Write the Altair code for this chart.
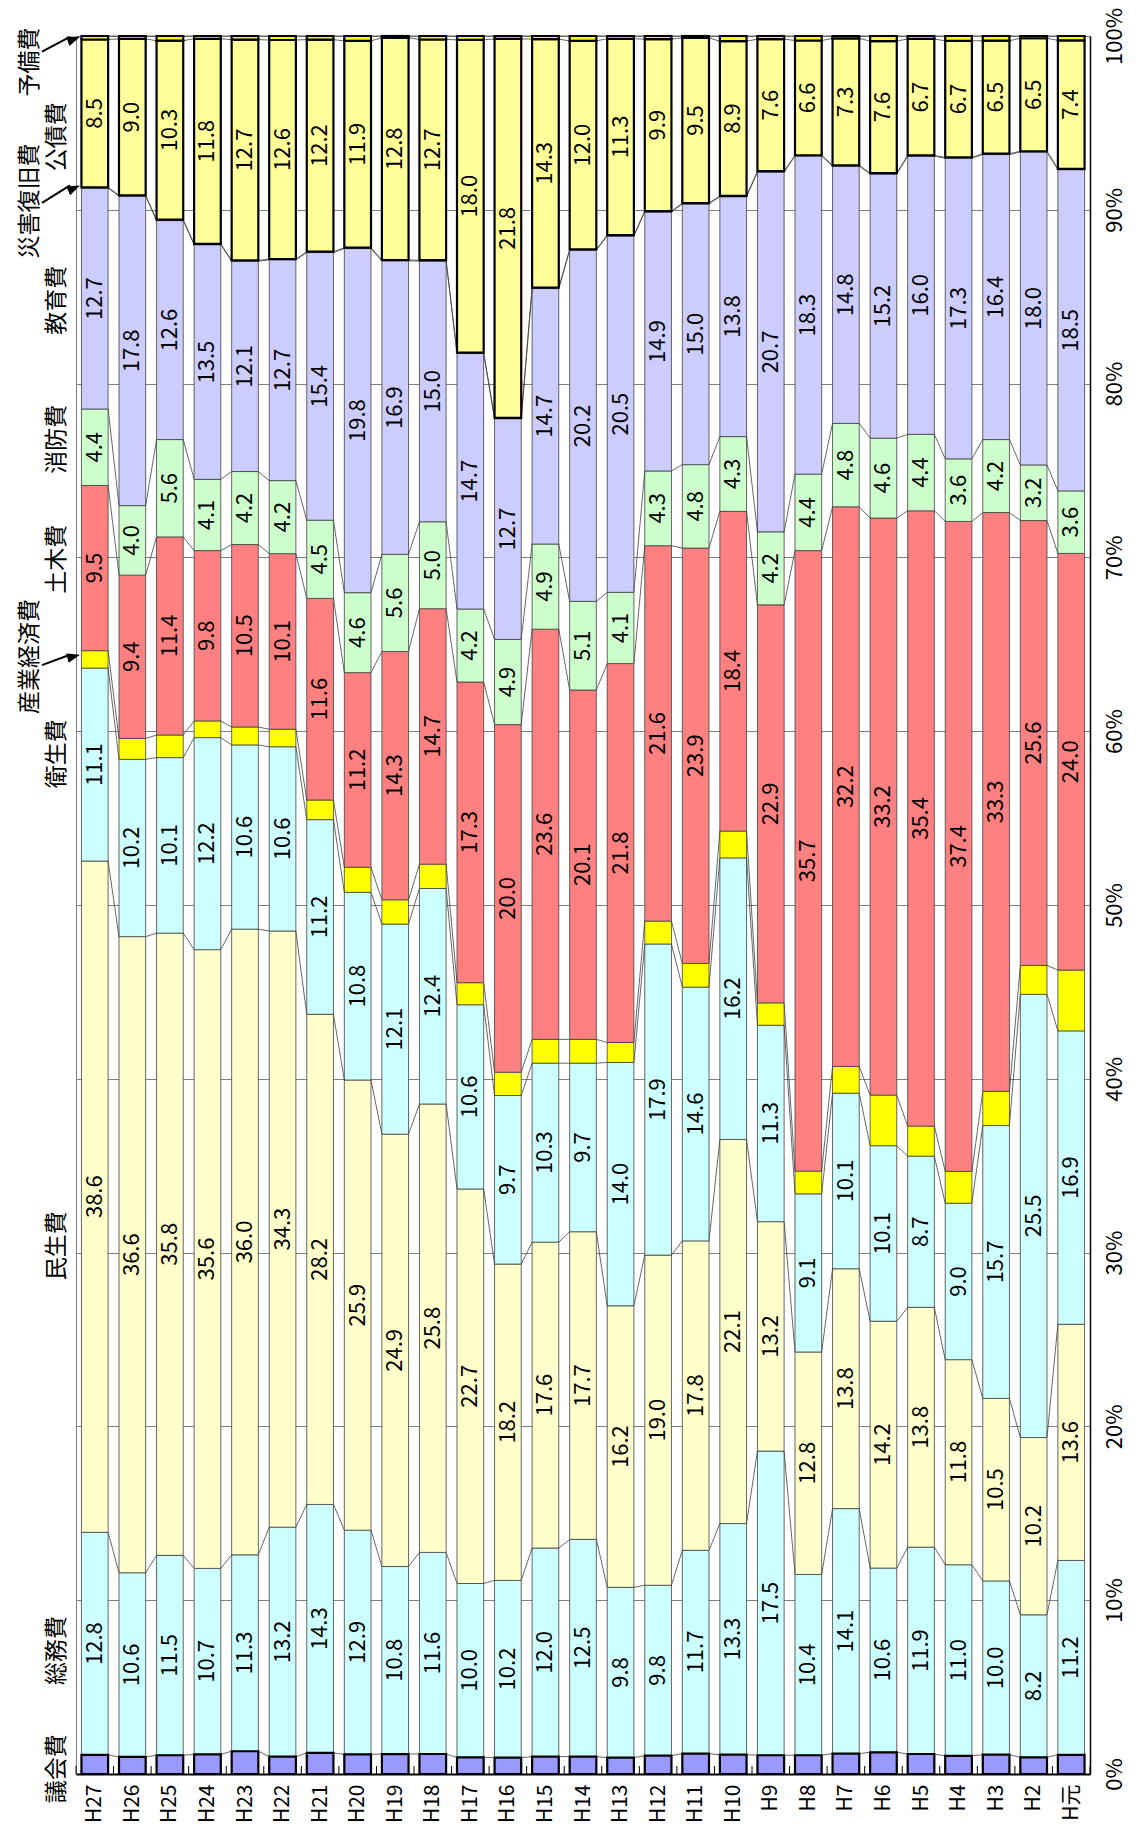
import json
import altair as alt
import pandas as pd

years = ["H27", "H26", "H25", "H24", "H23", "H22", "H21", "H20", "H19", "H18",
         "H17", "H16", "H15", "H14", "H13", "H12", "H11", "H10", "H9", "H8",
         "H7", "H6", "H5", "H4", "H3", "H2", "H元"]

cats = ["議会費", "総務費", "民生費", "衛生費", "産業経済費", "土木費",
        "消防費", "教育費", "災害復旧費", "公債費", "予備費"]

gikai = [1.10, 0.98, 1.08, 1.13, 1.31, 1.00, 1.21, 1.13, 1.15, 1.15, 0.96, 0.94, 1.00, 1.00,
         0.94, 1.06, 1.17, 1.11, 1.08, 1.08, 1.17, 1.25, 1.15, 1.04, 1.11, 0.96, 1.10]
soumu = [12.8, 10.6, 11.5, 10.7, 11.3, 13.2, 14.3, 12.9, 10.8, 11.6, 10.0, 10.2, 12.0, 12.5,
         9.8, 9.8, 11.7, 13.3, 17.5, 10.4, 14.1, 10.6, 11.9, 11.0, 10.0, 8.2, 11.2]
minsei = [38.6, 36.6, 35.8, 35.6, 36.0, 34.3, 28.2, 25.9, 24.9, 25.8, 22.7, 18.2, 17.6, 17.7,
          16.2, 19.0, 17.8, 22.1, 13.2, 12.8, 13.8, 14.2, 13.8, 11.8, 10.5, 10.2, 13.6]
eisei = [11.1, 10.2, 10.1, 12.2, 10.6, 10.6, 11.2, 10.8, 12.1, 12.4, 10.6, 9.7, 10.3, 9.7,
         14.0, 17.9, 14.6, 16.2, 11.3, 9.1, 10.1, 10.1, 8.7, 9.0, 15.7, 25.5, 16.9]
sangyo = [1.00, 1.20, 1.30, 0.96, 1.03, 1.01, 1.13, 1.44, 1.40, 1.40, 1.27, 1.34, 1.37, 1.37,
          1.15, 1.32, 1.36, 1.54, 1.29, 1.31, 1.54, 2.91, 1.73, 1.83, 1.97, 1.66, 3.50]
doboku = [9.5, 9.4, 11.4, 9.8, 10.5, 10.1, 11.6, 11.2, 14.3, 14.7, 17.3, 20.0, 23.6, 20.1,
          21.8, 21.6, 23.9, 18.4, 22.9, 35.7, 32.2, 33.2, 35.4, 37.4, 33.3, 25.6, 24.0]
shobo = [4.4, 4.0, 5.6, 4.1, 4.2, 4.2, 4.5, 4.6, 5.6, 5.0, 4.2, 4.9, 4.9, 5.1,
         4.1, 4.3, 4.8, 4.3, 4.2, 4.4, 4.8, 4.6, 4.4, 3.6, 4.2, 3.2, 3.6]
kyoiku = [12.7, 17.8, 12.6, 13.5, 12.1, 12.7, 15.4, 19.8, 16.9, 15.0, 14.7, 12.7, 14.7, 20.2,
          20.5, 14.9, 15.0, 13.8, 20.7, 18.3, 14.8, 15.2, 16.0, 17.3, 16.4, 18.0, 18.5]
saigai = [0.05, 0.05, 0.05, 0.05, 0.05, 0.05, 0.05, 0.05, 0.05, 0.05, 0.05, 0.05, 0.05, 0.05,
          0.05, 0.05, 0.05, 0.05, 0.05, 0.05, 0.05, 0.05, 0.05, 0.05, 0.05, 0.05, 0.05]
kosai = [8.5, 9.0, 10.3, 11.8, 12.7, 12.6, 12.2, 11.9, 12.8, 12.7, 18.0, 21.8, 14.3, 12.0,
         11.3, 9.9, 9.5, 8.9, 7.6, 6.6, 7.3, 7.6, 6.7, 6.7, 6.5, 6.5, 7.4]
yobi = [0.20, 0.17, 0.27, 0.16, 0.21, 0.23, 0.21, 0.28, 0.10, 0.20, 0.22, 0.17, 0.18, 0.28,
        0.16, 0.18, 0.11, 0.30, 0.18, 0.26, 0.14, 0.29, 0.17, 0.28, 0.27, 0.13, 0.25]

series = [gikai, soumu, minsei, eisei, sangyo, doboku, shobo, kyoiku, saigai, kosai, yobi]

colors = ["#9999FF", "#CCFFFF", "#FFFFCC", "#CCFFFF", "#FFFF00", "#FF8080",
          "#CCFFCC", "#CCCCFF", "#FFFF99", "#FFFF99", "#FFFF00"]
labeled = ["総務費", "民生費", "衛生費", "土木費", "消防費", "教育費", "公債費"]
thick = ["議会費", "公債費", "予備費"]

# category header labels (rotated), positions (percent)
head_names = ["議会費", "総務費", "民生費", "衛生費", "産業経済費", "土木費",
              "消防費", "教育費", "災害復旧費", "公債費", "予備費"]
head_pos = [0.3, 7.1, 30.4, 58.7, 64.3, 69.9, 76.8, 84.8, 90.5, 94.2, 98.5]
head_outer = [False, False, False, False, True, False, False, False, True, False, True]

# arrows: (tail %, tip %, angle)
arrow_tail = [63.8, 90.4, 99.1]
arrow_tip = [64.4, 91.4, 99.95]
arrow_angle = [345, 336, 340]

W, H = 1014, 1738
HW = 0.355
FONT = "Noto Sans CJK JP"

rows = []
for i, yr in enumerate(years):
    vals = [s[i] for s in series]
    tot = sum(vals)
    cum = 0.0
    for c, v in zip(cats, vals):
        p = v / tot * 100
        rows.append(dict(year=yr, idx=i, cat=c, v=v, lo=cum, hi=cum + p,
                         mid=cum + p / 2, x0=i - HW, x1=i + HW,
                         label=f"{v:.1f}"))
        cum += p
df = pd.DataFrame(rows)

lines = []
for c in cats:
    sub = df[df.cat == c].sort_values("idx").reset_index(drop=True)
    for i in range(len(sub) - 1):
        lines.append(dict(cat=c, xa=sub.idx[i] + HW, ya=sub.hi[i],
                          xb=sub.idx[i + 1] - HW, yb=sub.hi[i + 1]))
ldf = pd.DataFrame(lines)

ticks_df = pd.DataFrame({"b": [k - 0.5 for k in range(len(years) + 1)]})
head_df = pd.DataFrame({"name": head_names, "pos": head_pos, "outer": head_outer})
arr_df = pd.DataFrame({"tail": arrow_tail, "tip": arrow_tip, "ang": arrow_angle})

xscale = alt.Scale(domain=[-0.5, len(years) - 0.5], nice=False, zero=False)
yscale = alt.Scale(domain=[0, 100], nice=False)
label_expr = json.dumps(years, ensure_ascii=False) + "[datum.value]"

xaxis = alt.Axis(values=list(range(len(years))), labelExpr=label_expr,
                 grid=False, ticks=False, domainColor="black", domainWidth=2,
                 title=None, labelAngle=270, labelAlign="right",
                 labelBaseline="middle", labelPadding=10, labelFontSize=21,
                 labelFont=FONT, labelColor="black", labelOverlap=False,
                 labelFlush=False)
yaxis = alt.Axis(orient="right", values=list(range(0, 101, 10)),
                 labelExpr="datum.value + '%'", grid=True, gridColor="#808080",
                 gridWidth=1, ticks=False, domainColor="black", domainWidth=1.5,
                 title=None, labelAngle=270, labelAlign="center",
                 labelBaseline="top", labelPadding=14, labelFontSize=22,
                 labelFont=FONT, labelColor="black", labelOverlap=False,
                 labelFlush=False)


def X(f):
    return alt.X(f, scale=xscale, axis=xaxis)


def Y(f):
    return alt.Y(f, scale=yscale, axis=yaxis)


color = alt.Color("cat:N", scale=alt.Scale(domain=cats, range=colors), legend=None)

base_bars = alt.Chart(df).mark_bar(stroke="#404040", strokeWidth=0.8).encode(
    x=X("x0:Q"), x2="x1:Q", y=Y("lo:Q"), y2="hi:Q", color=color,
)

thick_bars = alt.Chart(df).transform_filter(
    alt.FieldOneOfPredicate(field="cat", oneOf=thick)
).mark_bar(stroke="black", strokeWidth=2.2).encode(
    x=X("x0:Q"), x2="x1:Q", y=Y("lo:Q"), y2="hi:Q", color=color,
)

series_lines = alt.Chart(ldf).mark_rule(color="#404040", strokeWidth=0.8).encode(
    x=X("xa:Q"), x2="xb:Q", y=Y("ya:Q"), y2="yb:Q",
)

bottom_ticks = alt.Chart(ticks_df).mark_rule(color="black", strokeWidth=1).encode(
    x=X("b:Q"), y=alt.value(H), y2=alt.value(H - 8),
)

value_text = alt.Chart(df).transform_filter(
    alt.FieldOneOfPredicate(field="cat", oneOf=labeled)
).mark_text(angle=270, align="center", baseline="middle", fontSize=22,
            font=FONT, color="black").encode(
    x=X("idx:Q"), y=Y("mid:Q"), text="label:N",
)

head_inner = alt.Chart(head_df).transform_filter("!datum.outer").mark_text(
    angle=270, align="center", baseline="middle", fontSize=23, font=FONT, color="black"
).encode(x=alt.value(-19), y=Y("pos:Q"), text="name:N")

head_out = alt.Chart(head_df).transform_filter("datum.outer").mark_text(
    angle=270, align="center", baseline="middle", fontSize=23, font=FONT, color="black"
).encode(x=alt.value(-46), y=Y("pos:Q"), text="name:N")

arrow_lines = alt.Chart(arr_df).mark_rule(color="black", strokeWidth=2).encode(
    x=alt.value(-34), x2=alt.value(-6), y=Y("tail:Q"), y2="tip:Q",
)

arrow_heads = alt.Chart(arr_df).mark_point(
    shape="M0,0L-2,-0.75L-2,0.75Z", filled=True, color="black", size=169, strokeWidth=0,
    opacity=1
).encode(
    x=alt.value(4), y=Y("tip:Q"), angle=alt.Angle("ang:Q", scale=None),
)

chart = alt.layer(
    base_bars, series_lines, thick_bars, bottom_ticks, value_text,
    head_inner, head_out, arrow_lines, arrow_heads
).properties(
    width=W, height=H,
    autosize=alt.AutoSizeParams(type="none"),
    padding={"left": 68, "top": 28, "right": 38, "bottom": 49},
    background="white",
).configure_view(stroke="#808080", strokeWidth=1)

chart.save("out.html", embed_options={"renderer": "svg", "actions": False})
